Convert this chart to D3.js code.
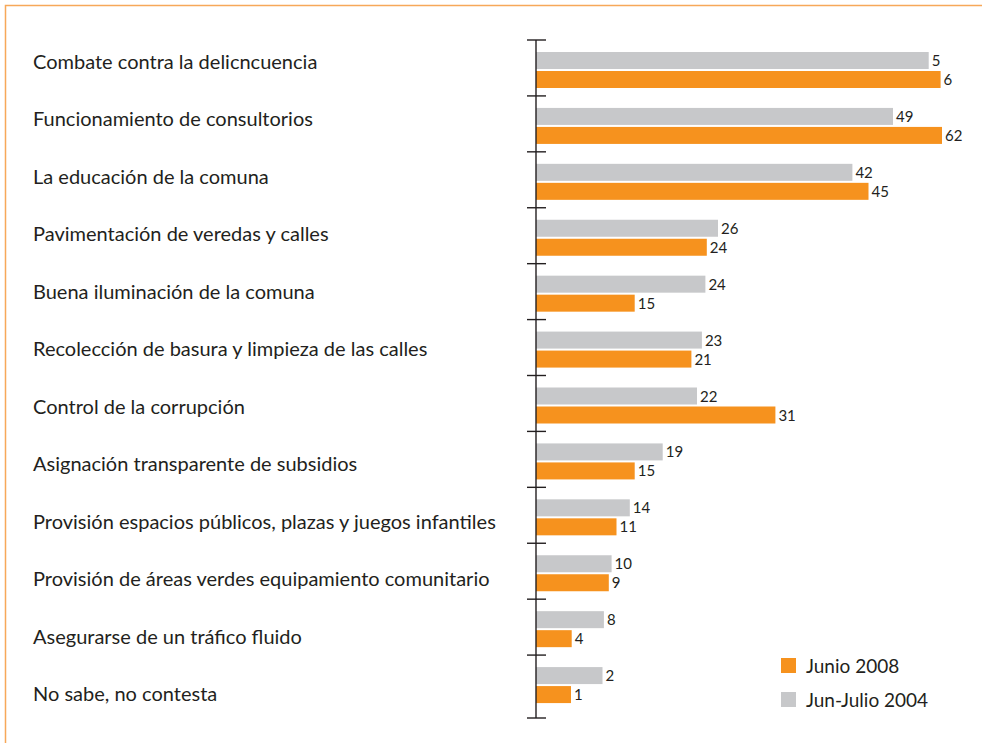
<!DOCTYPE html>
<html>
<head>
<meta charset="utf-8">
<script src="https://cdn.jsdelivr.net/npm/d3@7"></script>
<style>
  body { margin: 0; background: #fff; }
  text { font-family: Lato, "Open Sans", sans-serif; fill: #231f20; }
</style>
</head>
<body>
<script>
var categories = [
	"Combate contra la delicncuencia",
	"Funcionamiento de consultorios",
	"La educación de la comuna",
	"Pavimentación de veredas y calles",
	"Buena iluminación de la comuna",
	"Recolección de basura y limpieza de las calles",
	"Control de la corrupción",
	"Asignación transparente de subsidios",
	"Provisión espacios públicos,  plazas y juegos infantiles",
	"Provisión de áreas verdes equipamiento comunitario",
	"Asegurarse de un tráfico fluido",
	"No sabe, no contesta"
];

// printed value labels
var labels2004 = ["5", "49", "42", "26", "24", "23", "22", "19", "14", "10", "8", "2"];
var labels2008 = ["6", "62", "45", "24", "15", "21", "31", "15", "11", "9", "4", "1"];

// bar lengths as drawn in the picture (the original bars do not follow the printed labels)
var bars2004 = [56.1, 51.0, 45.2, 26.0, 24.2, 23.7, 23.0, 18.1, 13.4, 10.8, 9.7, 9.5];
var bars2008 = [57.8, 58.0, 47.5, 24.4, 14.1, 22.2, 34.2, 14.1, 11.5, 10.4, 5.1, 5.0];

var seriesNames = ["Junio 2008", "Jun-Julio 2004"];
var colors = {"Junio 2008": "#f6921e", "Jun-Julio 2004": "#c7c8ca"};

var width = 982, height = 743;
var x0 = 536;

var svg = d3.select("body").append("svg")
	.attr("width", width)
	.attr("height", height);

// frame (top and left only)
svg.append("path")
	.attr("d", "M5.5," + height + "V5.5H" + width)
	.attr("fill", "none")
	.attr("stroke", "#f7a859")
	.attr("stroke-width", 1.5);

var x = d3.scaleLinear().domain([0, 60]).range([x0, x0 + 420]);
var y = d3.scaleBand().domain(categories).range([40, 711]);
// category labels sit on their own, slightly wider spacing
var yLabel = d3.scalePoint().domain(categories).range([69, 701]);

// category labels
svg.selectAll("text.cat")
	.data(categories)
	.enter().append("text")
	.attr("class", "cat")
	.attr("x", 33)
	.attr("y", function (d) { return yLabel(d); })
	.attr("font-size", "20px")
	.text(function (d) { return d; });

// gray bars
svg.selectAll("rect.b2004")
	.data(bars2004)
	.enter().append("rect")
	.attr("class", "b2004")
	.attr("x", x(0))
	.attr("y", function (d, i) { return y(categories[i]) + 12; })
	.attr("width", function (d) { return x(d) - x(0); })
	.attr("height", 17)
	.attr("fill", colors["Jun-Julio 2004"]);

// orange bars
svg.selectAll("rect.b2008")
	.data(bars2008)
	.enter().append("rect")
	.attr("class", "b2008")
	.attr("x", x(0))
	.attr("y", function (d, i) { return y(categories[i]) + 31; })
	.attr("width", function (d) { return x(d) - x(0); })
	.attr("height", 17)
	.attr("fill", colors["Junio 2008"]);

// value labels
svg.selectAll("text.v2004")
	.data(bars2004)
	.enter().append("text")
	.attr("class", "v2004")
	.attr("x", function (d) { return x(d) + 3; })
	.attr("y", function (d, i) { return y(categories[i]) + 26; })
	.attr("font-size", "15px")
	.text(function (d, i) { return labels2004[i]; });

svg.selectAll("text.v2008")
	.data(bars2008)
	.enter().append("text")
	.attr("class", "v2008")
	.attr("x", function (d) { return x(d) + 3; })
	.attr("y", function (d, i) { return y(categories[i]) + 45; })
	.attr("font-size", "15px")
	.text(function (d, i) { return labels2008[i]; });

// axis: vertical line with a tick at the top of each group
var axisBottom = 718;
var tickYs = categories.map(function (d) { return y(d); }).concat([axisBottom]);
var axis = svg.append("g").attr("stroke", "#231f20").attr("stroke-width", 1.4);
axis.append("line")
	.attr("x1", x0).attr("x2", x0)
	.attr("y1", y.range()[0]).attr("y2", axisBottom);
axis.selectAll("line.tick")
	.data(tickYs)
	.enter().append("line")
	.attr("class", "tick")
	.attr("x1", x0 - 9).attr("x2", x0 + 10)
	.attr("y1", function (d) { return d; })
	.attr("y2", function (d) { return d; });

// legend
var legend = svg.selectAll("g.legend")
	.data(seriesNames)
	.enter().append("g")
	.attr("class", "legend")
	.attr("transform", function (d, i) { return "translate(781," + (658 + i * 34) + ")"; });
legend.append("rect")
	.attr("width", 15).attr("height", 15)
	.attr("fill", function (d) { return colors[d]; });
legend.append("text")
	.attr("x", 25).attr("y", 15)
	.attr("font-size", "19px")
	.text(function (d) { return d; });
</script>
</body>
</html>
